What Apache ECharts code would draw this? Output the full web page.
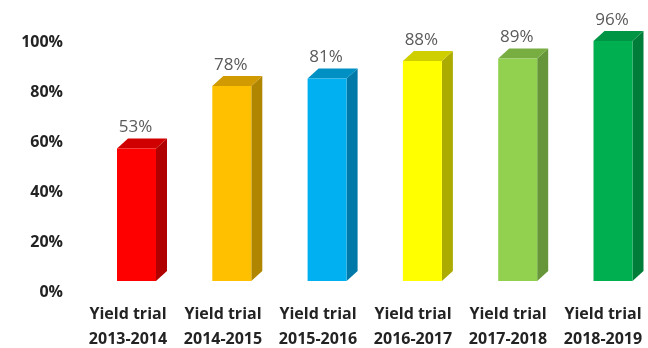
<!DOCTYPE html>
<html>
<head>
<meta charset="utf-8">
<script src="https://cdn.jsdelivr.net/npm/echarts@6/dist/echarts.min.js"></script>
<style>
  html, body { margin: 0; padding: 0; background: #ffffff; }
  #chart { width: 648px; height: 348px; }
</style>
</head>
<body>
<div id="chart"></div>
<script>
// Yield trial results per season (percent)
const categories = [
  'Yield trial\n2013-2014',
  'Yield trial\n2014-2015',
  'Yield trial\n2015-2016',
  'Yield trial\n2016-2017',
  'Yield trial\n2017-2018',
  'Yield trial\n2018-2019'
];
const values = [53, 78, 81, 88, 89, 96];
const yTicks = [0, 20, 40, 60, 80, 100];

// face colours of each column: front, right side, top
const frontColors = ['#FF0000', '#FFC000', '#00B0F0', '#FFFF00', '#92D050', '#00B050'];
const sideColors  = ['#B00000', '#B08600', '#0078A8', '#ACAC00', '#66953A', '#007D38'];
const topColors   = ['#D00000', '#D09A00', '#0090C4', '#CFCF00', '#78AD42', '#009544'];

const DEPTH_X = 11;   // horizontal offset of the back face
const DEPTH_Y = -10;  // vertical offset of the back face
const FACE_W = 39;    // width of the front face

const chart = echarts.init(document.getElementById('chart'), null, { renderer: 'canvas' });

function renderColumn(params, api) {
  const idx = api.value(0);
  const val = api.value(1);
  const top = api.coord([idx, val]);
  const base = api.coord([idx, 0]);
  const xl = top[0] - FACE_W / 2;
  const xr = top[0] + FACE_W / 2;
  const yt = top[1];
  const yb = base[1];
  return {
    type: 'group',
    children: [
      {
        type: 'polygon',
        shape: { points: [[xr, yt], [xr + DEPTH_X, yt + DEPTH_Y], [xr + DEPTH_X, yb + DEPTH_Y], [xr, yb]] },
        style: { fill: sideColors[idx] }
      },
      {
        type: 'polygon',
        shape: { points: [[xl, yt], [xl + DEPTH_X, yt + DEPTH_Y], [xr + DEPTH_X, yt + DEPTH_Y], [xr, yt]] },
        style: { fill: topColors[idx] }
      },
      {
        type: 'rect',
        shape: { x: xl, y: yt, width: FACE_W, height: yb - yt },
        style: { fill: frontColors[idx] }
      },
      {
        type: 'text',
        x: top[0] - 1,
        y: yt + DEPTH_Y - 11,
        style: {
          text: val + '%',
          fill: '#5a5a5a',
          font: '17px "Open Sans", sans-serif',
          align: 'center',
          verticalAlign: 'middle'
        }
      }
    ]
  };
}

const labelFont = { fontFamily: '"Open Sans", sans-serif', fontWeight: 'bold', fontSize: 16, color: '#232323' };

chart.setOption({
  animation: false,
  backgroundColor: '#ffffff',
  grid: [
    // columns
    { left: 88.85, width: 571.8, top: 31, bottom: 67, outerBoundsMode: 'none' },
    // axis labels (drawn against the back wall)
    { left: 80.5, width: 570, top: 42, bottom: 56, outerBoundsMode: 'none' }
  ],
  xAxis: [
    { type: 'category', gridIndex: 0, data: categories, show: false },
    {
      type: 'category', gridIndex: 1, data: categories,
      axisLine: { show: false }, axisTick: { show: false }, splitLine: { show: false },
      axisLabel: Object.assign({ margin: 10, lineHeight: 25, interval: 0 }, labelFont)
    }
  ],
  yAxis: [
    { type: 'value', gridIndex: 0, min: 0, max: 100, show: false },
    {
      type: 'value', gridIndex: 1, min: 0, max: 100, interval: 20,
      axisLine: { show: false }, axisTick: { show: false }, splitLine: { show: false },
      axisLabel: Object.assign({ margin: 17.5, formatter: '{value}%',
        customValues: yTicks }, labelFont)
    }
  ],
  series: [
    {
      type: 'custom',
      xAxisIndex: 0,
      yAxisIndex: 0,
      renderItem: renderColumn,
      data: values.map((v, i) => [i, v])
    }
  ]
});
</script>
</body>
</html>
